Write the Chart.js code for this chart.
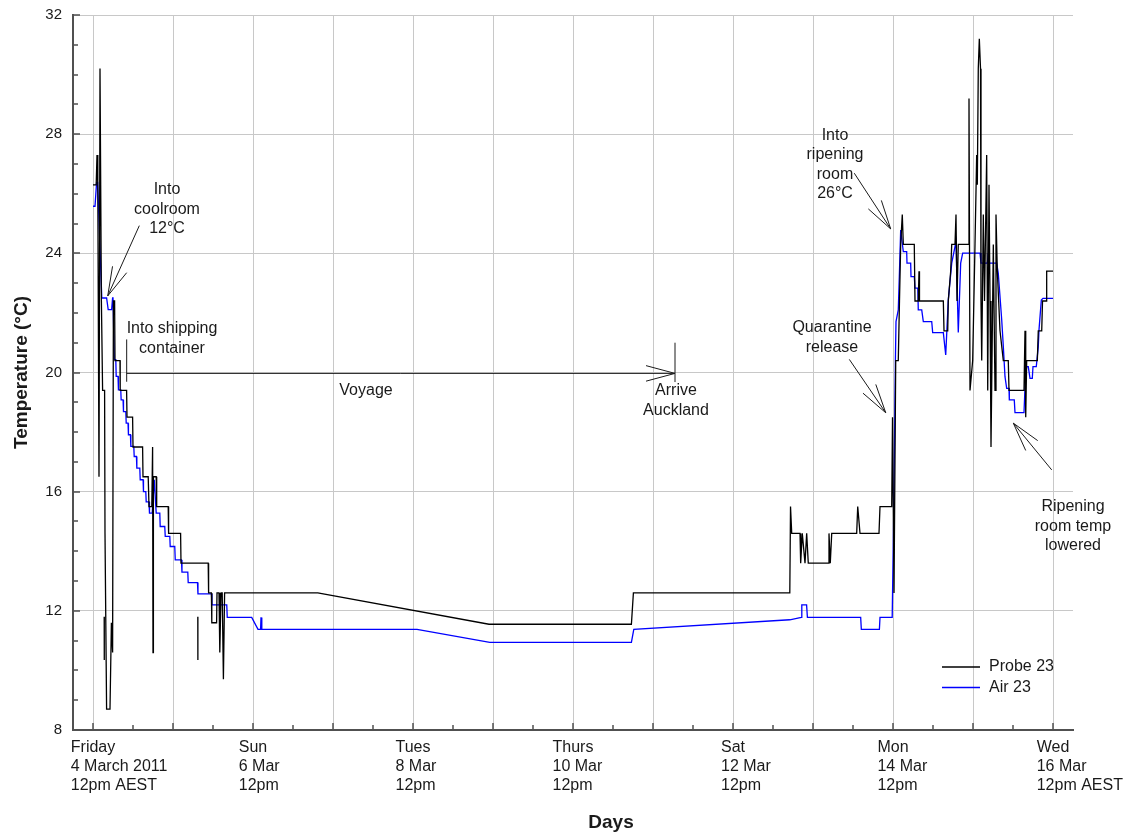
<!DOCTYPE html>
<html>
<head>
<meta charset="utf-8">
<title>Probe and air temperature, Brisbane to Auckland shipment</title>
<script src="https://cdn.jsdelivr.net/npm/chart.js@4.4.1/dist/chart.umd.min.js"></script>
<style>
  html, body { margin: 0; padding: 0; background: #ffffff; }
  #wrap { width: 1146px; height: 835px; position: relative; }
</style>
</head>
<body>
<div id="wrap"><canvas id="chart" width="1146" height="835"></canvas></div>
<script>
// Time is in days after Friday 4 March 2011 12pm AEST; temperatures in degrees C.

// Probe 23 (fruit pulp temperature)
const probe23 = [
  [0.000, 26.3], [0.040, 26.3], [0.050, 27.3], [0.060, 26.3], [0.075, 16.5],
  [0.0875, 30.2], [0.105, 22.4], [0.120, 19.4], [0.145, 19.4], [0.150, 14.6],
  [0.170, 8.7], [0.2125, 8.7], [0.230, 11.6], [0.245, 10.6], [0.255, 22.4],
  [0.270, 22.4], [0.275, 20.4], [0.3375, 20.4], [0.340, 19.4], [0.420, 19.4],
  [0.425, 18.5], [0.495, 18.5], [0.500, 17.5], [0.620, 17.5], [0.625, 16.5],
  [0.690, 16.5], [0.700, 15.5], [0.735, 15.5], [0.745, 17.5], [0.750, 10.6],
  [0.755, 16.5], [0.790, 16.5], [0.796, 15.5], [0.940, 15.5], [0.945, 14.6],
  [1.095, 14.6], [1.100, 13.6], [1.440, 13.6], [1.445, 12.6], [1.480, 12.6],
  [1.485, 11.6], [1.545, 11.6], [1.550, 12.6], [1.575, 12.6], [1.585, 10.6],
  [1.600, 12.6], [1.615, 12.6], [1.630, 9.7], [1.645, 12.6], [2.810, 12.6],
  [4.950, 11.55], [6.730, 11.55], [6.755, 12.6], [8.710, 12.6], [8.719, 15.5],
  [8.734, 14.6], [8.8375, 14.6], [8.846, 13.6], [8.866, 14.6], [8.900, 13.6],
  [8.921, 14.6], [8.941, 13.6], [9.191, 13.6], [9.200, 14.6], [9.216, 13.6],
  [9.234, 14.6], [9.546, 14.6], [9.559, 15.5], [9.5875, 14.6], [9.825, 14.6],
  [9.8375, 15.5], [9.984, 15.5], [9.994, 18.5], [10.0125, 12.6], [10.034, 20.4],
  [10.066, 20.4], [10.081, 22.4], [10.096, 24.3], [10.116, 25.3], [10.129, 24.3],
  [10.266, 24.3], [10.275, 22.4], [10.316, 22.4], [10.325, 23.4], [10.331, 22.4],
  [10.629, 22.4], [10.6375, 21.4], [10.684, 21.4], [10.691, 22.4], [10.721, 23.4],
  [10.734, 24.3], [10.775, 24.3], [10.7875, 25.3], [10.800, 22.4], [10.816, 24.3],
  [10.941, 24.3], [10.950, 29.2], [10.9625, 19.4], [10.996, 20.4], [11.025, 24.3],
  [11.046, 27.3], [11.054, 26.3], [11.066, 30.2], [11.079, 31.2], [11.094, 30.2],
  [11.100, 22.4], [11.109, 20.4], [11.129, 25.3], [11.144, 22.4], [11.171, 27.3],
  [11.184, 19.4], [11.200, 26.3], [11.2125, 22.4], [11.225, 17.5], [11.254, 24.3],
  [11.275, 19.4], [11.2875, 25.3], [11.304, 23.4], [11.3375, 21.4], [11.379, 20.4],
  [11.441, 20.4], [11.450, 19.4], [11.6375, 19.4], [11.650, 21.4], [11.659, 18.5],
  [11.671, 20.4], [11.804, 20.4], [11.816, 21.4], [11.859, 21.4], [11.869, 22.4],
  [11.9125, 22.4], [11.921, 23.4], [12.000, 23.4]
];

// Short isolated probe readings (logger dropouts), drawn as separate strokes
const probe23Dropouts = [
  [0.140, 11.8], [0.141, 10.35], [0.142, null],
  [1.310, 11.8], [1.311, 10.35]
];

// Air 23 (air temperature beside the fruit)
const air23 = [
  [0.000, 25.58], [0.025, 25.58], [0.045, 26.38], [0.058, 26.38], [0.110, 22.5],
  [0.170, 22.5], [0.190, 22.11], [0.233, 22.11], [0.245, 22.5], [0.250, 22.5],
  [0.266, 20.43], [0.285, 20.43], [0.290, 19.87], [0.313, 19.87], [0.318, 19.42],
  [0.347, 19.42], [0.352, 19.08], [0.376, 19.08], [0.381, 18.69], [0.410, 18.69],
  [0.415, 18.3], [0.438, 18.3], [0.443, 17.91], [0.468, 17.91], [0.473, 17.52],
  [0.510, 17.52], [0.515, 17.18], [0.543, 17.18], [0.548, 16.79], [0.585, 16.79],
  [0.590, 16.4], [0.626, 16.4], [0.631, 16.0], [0.660, 16.0], [0.665, 15.66],
  [0.700, 15.66], [0.706, 15.28], [0.740, 15.28], [0.766, 16.4], [0.790, 15.28],
  [0.835, 15.28], [0.840, 14.83], [0.897, 14.83], [0.903, 14.5], [0.960, 14.5],
  [0.965, 14.16], [1.022, 14.16], [1.028, 13.71], [1.106, 13.71], [1.112, 13.3],
  [1.185, 13.3], [1.190, 12.95], [1.306, 12.95], [1.312, 12.57], [1.481, 12.57],
  [1.487, 12.2], [1.672, 12.2], [1.678, 11.78], [1.984, 11.78], [2.0625, 11.38],
  [2.095, 11.38], [2.100, 11.78], [2.110, 11.38], [4.050, 11.38], [4.960, 10.94],
  [6.730, 10.94], [6.760, 11.38], [8.710, 11.70], [8.855, 11.78], [8.860, 12.2],
  [8.920, 12.2], [8.930, 11.78], [9.596, 11.78], [9.604, 11.38], [9.830, 11.38],
  [9.8375, 11.78], [9.990, 11.78], [10.010, 15.5], [10.030, 20.4], [10.0375, 21.71],
  [10.066, 22.1], [10.079, 23.22], [10.096, 24.78], [10.116, 24.34], [10.129, 24.06],
  [10.171, 24.06], [10.175, 23.67], [10.221, 23.67], [10.225, 23.22], [10.266, 23.22],
  [10.275, 22.83], [10.310, 22.83], [10.316, 22.1], [10.359, 22.1], [10.379, 21.71],
  [10.484, 21.71], [10.496, 21.34], [10.629, 21.34], [10.659, 20.59], [10.691, 22.43],
  [10.734, 23.67], [10.7875, 24.39], [10.816, 21.34], [10.846, 23.67], [10.871, 24.01],
  [11.0875, 24.01], [11.100, 23.67], [11.180, 23.67], [11.190, 24.01], [11.200, 23.67],
  [11.296, 23.67], [11.316, 23.33], [11.3375, 22.55], [11.359, 21.76], [11.379, 20.87],
  [11.400, 19.86], [11.421, 19.47], [11.450, 19.47], [11.454, 19.08], [11.516, 19.08],
  [11.525, 18.65], [11.6375, 18.65], [11.654, 19.75], [11.671, 20.2], [11.691, 20.2],
  [11.7125, 19.8], [11.741, 19.8], [11.750, 20.2], [11.791, 20.2], [11.816, 20.87],
  [11.825, 21.43], [11.854, 22.43], [11.875, 22.49], [12.000, 22.49]
];

// Axis ticks
const dayTicks = [0, 1, 2, 3, 4, 5, 6, 7, 8, 9, 10, 11, 12];
const halfDayTicks = [0.5, 1.5, 2.5, 3.5, 4.5, 5.5, 6.5, 7.5, 8.5, 9.5, 10.5, 11.5];
const labelledDays = [0, 2, 4, 6, 8, 10, 12];
const dayLabels = [
  ['Friday', '4 March 2011', '12pm AEST'],
  ['Sun', '6 Mar', '12pm'],
  ['Tues', '8 Mar', '12pm'],
  ['Thurs', '10 Mar', '12pm'],
  ['Sat', '12 Mar', '12pm'],
  ['Mon', '14 Mar', '12pm'],
  ['Wed', '16 Mar', '12pm AEST']
];
const tempTicks = [8, 12, 16, 20, 24, 28, 32];
const tempMinorTicks = [9, 10, 11, 13, 14, 15, 17, 18, 19, 21, 22, 23, 25, 26, 27, 29, 30, 31];

// Event notes: text block centred at [day, temp]; arrows run from tail to head
const notes = [
  { lines: ['Into', 'coolroom', '12\u00B0C'], at: [0.925, 25.47] },
  { lines: ['Into shipping', 'container'], at: [0.9875, 21.14] },
  { lines: ['Voyage'], at: [3.4125, 19.38] },
  { lines: ['Arrive', 'Auckland'], at: [7.2875, 19.05] },
  { lines: ['Into', 'ripening', 'room', '26\u00B0C'], at: [9.275, 26.98] },
  { lines: ['Quarantine', 'release'], at: [9.2375, 21.17] },
  { lines: ['Ripening', 'room temp', 'lowered'], at: [12.25, 14.84] }
];
const arrows = [
  { from: [0.579, 24.93], to: [0.184, 22.57] },
  { from: [0.421, 19.97], to: [7.275, 19.97] },
  { from: [9.516, 26.69], to: [9.971, 24.82] },
  { from: [9.454, 20.44], to: [9.909, 18.65] },
  { from: [11.984, 16.73], to: [11.504, 18.30] }
];
const markers = [
  { day: 0.421, from: 21.11, to: 19.69 },
  { day: 7.275, from: 21.0, to: 19.68 }
];

const FONT = '"Liberation Sans", Arial, Helvetica, sans-serif';
const INK = '#1a1a1a';

const toPoints = arr => arr.map(([x, y]) => ({ x, y }));

// Ticks, labels, titles, notes and legend drawn against the chart's scales
const decorations = {
  id: 'decorations',
  afterDraw(chart) {
    const { ctx, chartArea: a, scales: { x, y } } = chart;
    ctx.save();

    // inward tick marks
    ctx.strokeStyle = '#505050';
    ctx.lineWidth = 1.5;
    ctx.beginPath();
    dayTicks.forEach(v => { const px = Math.round(x.getPixelForValue(v)); ctx.moveTo(px, a.bottom); ctx.lineTo(px, a.bottom - 7); });
    halfDayTicks.forEach(v => { const px = Math.round(x.getPixelForValue(v)); ctx.moveTo(px, a.bottom); ctx.lineTo(px, a.bottom - 5); });
    tempTicks.forEach(v => { const py = Math.round(y.getPixelForValue(v)); ctx.moveTo(a.left, py); ctx.lineTo(a.left + 7, py); });
    tempMinorTicks.forEach(v => { const py = Math.round(y.getPixelForValue(v)); ctx.moveTo(a.left, py); ctx.lineTo(a.left + 5, py); });
    ctx.stroke();

    // y tick labels
    ctx.fillStyle = INK;
    ctx.font = '15px ' + FONT;
    ctx.textAlign = 'right';
    ctx.textBaseline = 'middle';
    tempTicks.forEach(v => ctx.fillText(String(v), a.left - 11, y.getPixelForValue(v)));

    // x tick labels: lines left-aligned, block centred on the first line
    ctx.font = '16px ' + FONT;
    ctx.textAlign = 'left';
    labelledDays.forEach((d, i) => {
      const lines = dayLabels[i];
      const w0 = ctx.measureText(lines[0]).width;
      const left = x.getPixelForValue(d) - w0 / 2;
      lines.forEach((s, k) => ctx.fillText(s, left, a.bottom + 18 + k * 19));
    });

    // axis titles
    ctx.font = 'bold 19px ' + FONT;
    ctx.textAlign = 'center';
    ctx.fillText('Days', 611, 823);
    ctx.save();
    ctx.translate(22, (a.top + a.bottom) / 2);
    ctx.rotate(-Math.PI / 2);
    ctx.fillText('Temperature (\u00B0C)', 0, 0);
    ctx.restore();

    // notes
    ctx.font = '16px ' + FONT;
    ctx.textAlign = 'center';
    notes.forEach(n => {
      const cx = x.getPixelForValue(n.at[0]);
      const cy = y.getPixelForValue(n.at[1]);
      const h = 19.5;
      const top = cy - (n.lines.length - 1) * h / 2;
      n.lines.forEach((s, k) => ctx.fillText(s, cx, top + k * h));
    });

    // arrows with open heads
    ctx.strokeStyle = INK;
    ctx.lineWidth = 1;
    arrows.forEach(ar => {
      const x0 = x.getPixelForValue(ar.from[0]), y0 = y.getPixelForValue(ar.from[1]);
      const x1 = x.getPixelForValue(ar.to[0]), y1 = y.getPixelForValue(ar.to[1]);
      const ang = Math.atan2(y0 - y1, x0 - x1);
      const len = 30, spread = Math.PI / 12;
      ctx.beginPath();
      ctx.moveTo(x0, y0); ctx.lineTo(x1, y1);
      ctx.moveTo(x1, y1); ctx.lineTo(x1 + len * Math.cos(ang + spread), y1 + len * Math.sin(ang + spread));
      ctx.moveTo(x1, y1); ctx.lineTo(x1 + len * Math.cos(ang - spread), y1 + len * Math.sin(ang - spread));
      ctx.stroke();
    });
    markers.forEach(m => {
      const px = x.getPixelForValue(m.day);
      ctx.beginPath();
      ctx.moveTo(px, y.getPixelForValue(m.from));
      ctx.lineTo(px, y.getPixelForValue(m.to));
      ctx.stroke();
    });

    // legend
    const legendRows = [chart.data.datasets[0], chart.data.datasets[1]];
    ctx.font = '16px ' + FONT;
    ctx.textAlign = 'left';
    legendRows.forEach((ds, i) => {
      const ly = 667 + i * 20.5;
      ctx.strokeStyle = ds.borderColor;
      ctx.lineWidth = 1.3;
      ctx.beginPath(); ctx.moveTo(942, ly); ctx.lineTo(980, ly); ctx.stroke();
      ctx.fillStyle = INK;
      ctx.fillText(ds.label, 989, ly);
    });

    ctx.restore();
  }
};

const gridStyle = { color: '#c8c8c8', lineWidth: 1, drawTicks: false };
const borderStyle = { display: true, color: '#505050', width: 2 };

new Chart(document.getElementById('chart'), {
  type: 'line',
  data: {
    datasets: [
      { label: 'Probe 23', data: toPoints(probe23), borderColor: '#000000', borderWidth: 1.3, pointRadius: 0, tension: 0, fill: false },
      { label: 'Air 23', data: toPoints(air23), borderColor: '#0000ff', borderWidth: 1.3, pointRadius: 0, tension: 0, fill: false },
      { label: 'Probe 23 dropouts', data: toPoints(probe23Dropouts), borderColor: '#000000', borderWidth: 1.3, pointRadius: 0, tension: 0, fill: false, spanGaps: false }
    ]
  },
  options: {
    responsive: false,
    animation: false,
    maintainAspectRatio: false,
    layout: { padding: { left: 73, right: 73, top: 15, bottom: 105 } },
    scales: {
      x: {
        type: 'linear', min: -0.25, max: 12.25,
        afterBuildTicks: s => { s.ticks = dayTicks.map(v => ({ value: v })); },
        ticks: { display: false },
        grid: gridStyle, border: borderStyle
      },
      y: {
        type: 'linear', min: 8, max: 32,
        afterBuildTicks: s => { s.ticks = tempTicks.map(v => ({ value: v })); },
        ticks: { display: false },
        grid: gridStyle, border: borderStyle
      }
    },
    plugins: { legend: { display: false }, tooltip: { enabled: false } }
  },
  plugins: [decorations]
});
</script>
</body>
</html>
